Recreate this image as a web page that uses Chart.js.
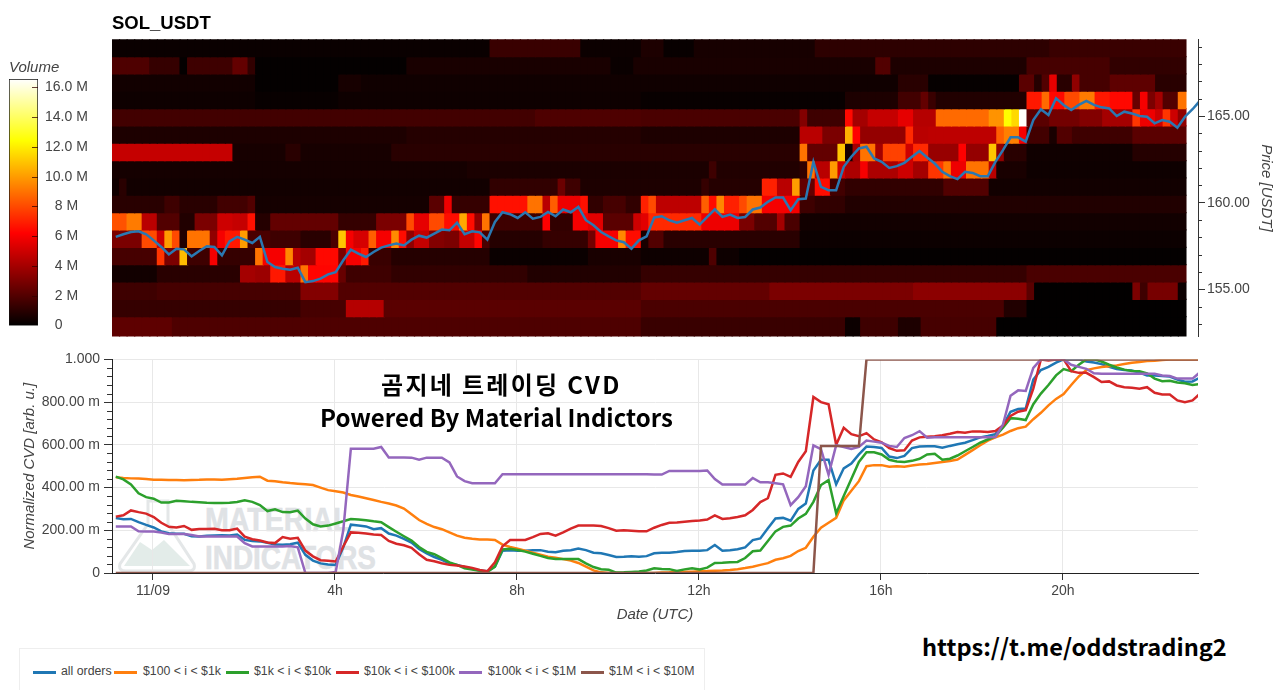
<!DOCTYPE html>
<html>
<head>
<meta charset="utf-8">
<title>SOL_USDT</title>
<script src="https://cdn.jsdelivr.net/npm/chart.js@4/dist/chart.umd.min.js"></script>
<style>
    html, body { margin: 0; padding: 0; background: #fff; overflow: hidden; }
    body { width: 1280px; height: 690px; position: relative; font-family: "Liberation Sans", sans-serif; }
    canvas { position: absolute; }
    #heatCanvas { left: 112px; top: 0; }
    #cvdCanvas { left: 0; top: 347px; }
    #barCanvas { left: 9px; top: 58px; }
    .caption { position: absolute; font-family: "Noto Sans CJK KR", sans-serif; font-weight: 700; color: #000; white-space: nowrap; }
    .mark { position: absolute; font-family: "Liberation Sans", sans-serif; font-weight: 700; color: #dfe2e5; -webkit-text-stroke: 0.6px #dfe2e5; white-space: nowrap; transform-origin: left top; }
    #legend { position: absolute; left: 19px; top: 648px; width: 686px; height: 42px; box-sizing: border-box; border: 1px solid #eee; border-bottom: 0; }
    #legend span { position: absolute; top: 15px; font-size: 12.3px; color: #444; white-space: nowrap; }
    #legend i { position: absolute; top: 22px; width: 23px; height: 3px; }
</style>
</head>
<body>
<svg style="position:absolute;left:116px;top:498px" width="82" height="76">
    <path d="M32 3 H52 V26 L78 66 Q80 73 72 73 H10 Q2 73 4 66 L32 26 Z" fill="#fff" stroke="#e4e7e8" stroke-width="3"/>
    <path d="M8 68 L24 44 L36 52 L48 42 L74 68 Z" fill="#e3ece9"/>
</svg>
<div class="mark" style="left:205px;top:500px;font-size:34px;transform:scaleX(.84)">MATERIAL</div>
<div class="mark" style="left:205px;top:538px;font-size:34px;transform:scaleX(.82)">INDICATORS</div>

<canvas id="heatCanvas" width="1168" height="347"></canvas>
<canvas id="barCanvas" width="101" height="283"></canvas>
<canvas id="cvdCanvas" width="1280" height="278"></canvas>

<div class="caption" style="left:381px;top:367px;font-size:24px;line-height:34px;letter-spacing:2.3px">곰지네 트레이딩 CVD</div>
<div class="caption" style="left:320px;top:400px;font-size:24px;line-height:34px">Powered By Material Indictors</div>
<div class="caption" style="left:922px;top:629px;font-size:23.6px;line-height:34px">https://t.me/oddstrading2</div>
<div id="legend"></div>

<script>
// Axis ticks
const priceTicks = [155, 160, 165];
const priceMinorTicks = [153, 154, 156, 157, 158, 159, 161, 162, 163, 164, 166, 167, 168, 169];
const timeTicks = [0, 4, 8, 12, 16, 20];
const timeTickLabels = ["11/09", "4h", "8h", "12h", "16h", "20h"];
const cvdTicks = [0, 200, 400, 600, 800, 1000];
const cvdTickLabels = ["0", "200.00 m", "400.00 m", "600.00 m", "800.00 m", "1.000"];
const cvdMinorTicks = [40, 80, 120, 160, 240, 280, 320, 360, 440, 480, 520, 560, 640, 680, 720, 760, 840, 880, 920, 960];
const volumeTicks = [0, 2, 4, 6, 8, 10, 12, 14, 16];
const volumeTickLabels = ["0    ", "2 M", "4 M", "6 M", "8 M", "10.0 M", "12.0 M", "14.0 M", "16.0 M"];
const volumeMax = 16.56;
const hoursStart = -0.9;
const hoursEnd = 22.97;

// Price bin edges of the heatmap, top to bottom
const priceEdges = [169.43, 168.43, 167.43, 166.43, 165.43, 164.43, 163.43, 162.43, 161.43, 160.43, 159.43, 158.43, 157.43, 156.43, 155.43, 154.43, 153.43, 152.28];

// Volume per price bin in millions, as runs of [end column, volume]
const volumeBin168 = [[50,.25],[62,1.4],[70,.3],[73,.7],[77,.2],[93,.55],[124,1.1],[142,1.4]];
const volumeBin167 = [[5,1.9],[9,1.3],[10,.1],[16,1.5],[18,2.4],[19,1.2],[39,.1],[66,.6],[69,.25],[101,.6],[103,2.0],[121,.7],[132,1.7],[142,1.2]];
const volumeBin166 = [[19,.45],[30,.1],[33,.55],[104,.4],[108,1.0],[120,.15],[122,2.2],[123,.9],[124,2.0],[125,5.6],[127,1.0],[128,3.5],[132,1.7],[138,2.3],[142,1.0]];
const volumeBin165 = [[19,.35],[30,.2],[70,.35],[97,.2],[104,.7],[107,1.6],[108,2.4],[109,1.4],[121,.8],[123,6.8],[124,8.8],[126,6.4],[128,8],[130,9.2],[132,6.8],[135,6.4],[136,2.5],[137,6],[138,3],[139,4],[141,2],[142,9]];
const volumeBin164 = [[56,1.6],[70,1.9],[91,1.8],[92,3.2],[97,1.5],[98,6.4],[100,4],[104,4.8],[106,5.6],[109,4.4],[116,8.8],[118,9.8],[119,12.4],[120,11.5],[121,16.5],[124,2.2],[128,2.8],[131,3.2],[135,4],[136,7.5],[138,5.8],[139,5],[140,7.5],[141,5],[142,3.5]];
const volumeBin163 = [[39,.7],[70,.9],[91,.7],[94,4.5],[97,3],[98,10.5],[99,6.2],[105,3.6],[106,7.2],[108,4.5],[117,4.6],[118,8.5],[120,9.3],[121,6],[124,1.6],[125,.6],[127,2],[135,1.5],[142,2.2]];
const volumeBin162 = [[16,4.8],[23,.55],[25,1.0],[37,.55],[91,1.0],[92,9],[96,2.4],[97,11],[98,.5],[99,4],[101,9],[102,4],[105,7.8],[106,5],[108,7.2],[112,3.7],[113,6.2],[116,3.6],[117,11],[118,3.5],[121,1],[135,.4],[142,.9]];
const volumeBin161 = [[47,.5],[79,.65],[80,1.5],[91,.8],[92,1.2],[93,9],[95,4.5],[96,10],[97,5],[99,4.2],[100,6],[104,4.2],[106,5],[108,4],[110,7.5],[111,9],[113,5.8],[116,9],[117,4.5],[121,.6],[142,.35]];
const volumeBin160 = [[1,.4],[2,1],[50,.45],[59,1.2],[60,2.6],[62,1.5],[78,.7],[79,1.3],[86,.9],[88,7],[90,4.5],[91,10],[93,2.4],[95,6.5],[97,1.6],[110,1.2],[116,2],[142,.45]];
const volumeBin159 = [[7,1],[9,1.5],[14,1],[18,1.6],[19,2],[42,.5],[44,2.2],[45,5.8],[50,1.3],[55,6.6],[57,9],[58,4.5],[59,8.5],[62,5.8],[63,6.6],[65,1.2],[68,1.7],[70,1.2],[71,7],[72,8],[78,4.6],[79,8.5],[80,6.5],[81,9.5],[83,7],[84,8],[86,9],[91,6],[93,1.5],[97,1.2],[142,.8]];
const volumeBin158 = [[2,8.2],[4,9.2],[6,4.5],[9,2],[11,.8],[14,3],[16,5],[18,4.8],[19,6.6],[21,.9],[30,2.4],[35,1.3],[39,3],[40,8],[42,5.6],[44,8],[46,6.5],[47,10.3],[48,6.5],[49,3.5],[50,9],[57,1.5],[58,6.2],[61,1.2],[63,6],[65,5.5],[69,2.2],[70,5],[71,5.5],[78,7.2],[83,5.8],[85,3],[88,2],[89,4],[91,1.8],[142,.45]];
const volumeBin157 = [[4,3],[6,8],[7,5],[8,10],[9,8],[10,.8],[13,9],[14,3.5],[15,6],[17,6.8],[18,10],[21,1.8],[25,1.5],[29,1],[30,1.8],[31,11],[32,6],[34,5.2],[35,8.5],[37,6],[38,9.6],[39,6.5],[40,3.5],[42,4.8],[44,3.2],[46,3],[48,4.8],[49,6.3],[50,1.8],[57,.9],[63,1.3],[64,2.8],[67,6],[68,9.5],[70,6.5],[71,.6],[73,2],[91,1],[142,.3]];
const volumeBin156 = [[6,1.7],[7,7.5],[9,3],[10,10.8],[13,1.5],[14,6],[19,1.3],[20,9],[23,6],[24,9.5],[25,4.5],[27,4],[30,6.4],[31,3],[33,6],[34,6.8],[37,1.4],[50,.9],[63,.25],[70,.6],[79,.35],[80,1.9],[83,.35],[142,.1]];
const volumeBin155 = [[6,.45],[17,1],[19,4],[21,3.8],[23,6.8],[25,4.5],[26,9],[30,6.3],[31,2.5],[37,1.5],[55,1.2],[70,.8],[121,1.3],[142,1.8]];
const volumeBin154 = [[6,1.5],[25,1.7],[30,3.2],[70,2],[87,2.4],[106,3],[121,3.4],[122,2.2],[135,.05],[136,3],[137,1.5],[141,2.9],[142,.3]];
const volumeBin153 = [[25,1.3],[31,1.7],[36,4.4],[70,2.2],[118,1.8],[121,.8],[142,.05]];
const volumeBin152 = [[8,2.3],[70,1.9],[97,1.4],[99,.3],[104,1.5],[107,.7],[117,1.7],[142,.05]];
const volumeBins = [volumeBin168, volumeBin167, volumeBin166, volumeBin165, volumeBin164, volumeBin163, volumeBin162, volumeBin161, volumeBin160, volumeBin159, volumeBin158, volumeBin157, volumeBin156, volumeBin155, volumeBin154, volumeBin153, volumeBin152];

// Price, one value per 10 minutes
const priceValues = [
    158.03,158.18,158.31,158.35,158.18,157.83,157.45,157.02,157.35,157.31,
    156.91,157.22,157.49,157.45,156.97,157.77,158.03,157.87,157.68,158.03,
    156.58,156.29,156.19,156.14,156.25,155.42,155.48,155.62,155.87,156.00,
    156.68,157.29,157.06,156.87,157.16,157.41,157.54,157.64,157.54,157.87,
    158.10,157.99,158.22,158.45,158.41,158.85,158.18,158.35,158.29,157.87,
    158.89,159.45,159.34,159.12,159.45,159.08,159.18,159.47,159.22,159.61,
    159.45,159.76,158.99,158.70,158.31,158.06,157.83,157.72,157.35,157.83,
    158.06,159.14,159.22,158.99,158.85,158.99,159.12,158.74,159.18,159.62,
    159.18,159.32,159.12,159.18,159.61,159.72,160.05,160.30,160.30,159.57,
    160.20,160.24,162.36,160.92,160.72,160.72,162.07,162.65,163.13,163.23,
    162.55,162.36,162.01,162.11,162.30,162.65,162.98,162.61,162.26,161.78,
    161.53,161.36,161.78,161.72,161.53,161.53,162.36,163.03,163.77,163.77,
    163.52,164.77,165.39,165.06,166.02,165.64,165.35,165.64,165.87,165.64,
    165.50,165.44,165.00,165.25,165.15,165.00,164.96,164.58,164.77,164.67,
    164.33,164.96,165.39,165.89
];

// Normalized CVD in milli units, same 10 minute samples
const allOrders = [
    257,252,253,238,225,213,195,186,184,184,
    172,171,174,176,177,176,180,155,150,148,
    142,133,132,135,142,85,58,45,40,38,
    120,226,222,218,205,210,185,175,160,142,
    112,92,75,62,45,38,28,20,12,8,
    30,104,107,104,104,107,107,100,97,104,
    107,115,107,95,92,84,75,76,78,76,
    79,92,95,95,98,103,104,104,107,131,
    104,107,111,120,154,162,209,255,258,245,
    300,325,480,530,530,415,490,512,555,592,
    590,585,545,538,548,585,592,593,593,586,
    595,603,610,622,635,642,650,690,755,768,
    770,905,950,965,985,1000,1000,1000,990,985,
    978,965,955,950,948,938,925,925,922,920,
    905,895,897,915
];
const orders100To1k = [
    448,445,443,442,440,437,436,435,435,434,
    435,436,438,438,437,439,441,445,448,451,
    432,430,425,421,418,415,412,400,388,383,
    377,365,358,350,342,333,325,316,302,275,
    248,230,215,205,190,175,165,160,157,157,
    155,133,122,114,104,95,86,76,71,65,
    58,47,30,12,3,0,0,0,0,0,
    0,0,2,3,5,6,6,8,9,11,
    12,14,18,23,29,38,46,62,69,80,
    103,118,170,212,235,258,340,385,430,500,
    505,505,497,500,498,503,508,510,515,520,
    524,531,553,575,598,620,635,648,665,678,
    685,720,750,785,815,838,880,920,950,958,
    964,968,972,978,984,988,992,994,997,999,
    1000,1000,1000,1000
];
const orders1kTo10k = [
    451,438,415,373,355,348,330,330,338,336,
    333,331,329,328,328,329,332,340,333,318,
    290,298,285,284,292,255,228,218,222,232,
    242,253,250,247,242,238,215,193,172,152,
    122,99,88,70,50,38,22,16,10,5,
    30,110,113,108,100,90,80,70,66,65,
    65,65,45,28,18,15,2,3,5,7,
    12,22,19,18,10,17,22,16,25,47,
    48,50,52,70,102,105,150,195,216,222,
    255,277,333,412,435,280,360,440,520,565,
    565,555,530,522,520,525,535,555,558,530,
    535,550,570,590,610,625,640,680,725,722,
    716,790,840,880,925,955,945,975,1000,1000,
    990,975,962,952,946,945,935,910,898,900,
    892,888,880,885
];
const orders10kTo100k = [
    264,270,293,285,278,262,235,216,213,220,
    202,206,206,207,200,200,208,170,158,152,
    143,140,168,160,165,105,78,60,57,54,
    124,190,188,185,180,178,150,137,130,118,
    88,62,55,46,38,35,30,24,14,8,
    50,125,154,154,155,168,183,186,175,190,
    208,222,222,222,220,210,198,200,198,195,
    195,212,225,235,236,240,243,246,250,270,
    253,256,262,270,295,332,350,460,466,450,
    520,570,824,800,790,600,680,650,640,655,
    625,612,585,572,575,620,635,638,640,645,
    652,660,657,663,662,660,665,690,735,755,
    762,863,1000,995,1000,1000,945,937,937,917,
    894,897,878,870,867,863,870,844,836,836,
    808,800,808,840
];
const orders100kTo1M = [
    218,218,218,195,194,194,190,182,182,182,
    178,171,171,171,171,171,171,140,124,124,
    124,124,124,126,120,0,0,0,0,5,
    200,582,582,582,582,590,541,541,541,540,
    530,540,540,540,518,452,430,420,420,420,
    420,462,462,462,462,462,462,462,462,462,
    462,462,462,462,462,462,462,462,462,462,
    462,461,461,478,478,478,478,478,480,440,
    414,414,414,414,445,425,425,420,415,318,
    355,406,598,580,460,598,590,581,590,620,
    615,610,595,590,632,645,664,633,635,635,
    635,635,635,635,635,635,637,695,830,855,
    852,960,1000,1000,1000,1000,975,965,956,935,
    933,933,933,933,933,933,933,933,925,922,
    910,910,910,940
];
const orders1MTo10M = [
    0,0,0,0,0,0,0,0,0,0,
    0,0,0,0,0,0,0,0,0,0,
    0,0,0,0,0,0,0,0,0,0,
    0,0,0,0,0,0,0,0,0,0,
    0,0,0,0,0,0,0,0,0,0,
    0,0,0,0,0,0,0,0,0,0,
    0,0,0,0,0,0,0,0,0,0,
    0,0,0,0,0,0,0,0,0,0,
    0,0,0,0,0,0,0,0,0,0,
    0,0,0,595,595,595,595,595,595,1000,
    1000,1000,1000,1000,1000,1000,1000,1000,1000,1000,
    1000,1000,1000,1000,1000,1000,1000,1000,1000,1000,
    1000,1000,1000,1000,1000,1000,1000,1000,1000,1000,
    1000,1000,1000,1000,1000,1000,1000,1000,1000,1000,
    1000,1000,1000,1000
];
const seriesNames = ["all orders", "$100 < i < $1k", "$1k < i < $10k", "$10k < i < $100k", "$100k < i < $1M", "$1M < i < $10M"];
const seriesValues = [allOrders, orders100To1k, orders1kTo10k, orders10kTo100k, orders100kTo1M, orders1MTo10M];
const seriesColors = ["#1f77b4", "#ff7f0e", "#2ca02c", "#d62728", "#9467bd", "#8c564b"];

const textGray = "#444";
const axisFont = { family: "'Liberation Sans', sans-serif", size: 14 };
const axisTitleFont = { family: "'Liberation Sans', sans-serif", size: 15, style: "italic", weight: "normal" };

// center of a 10 minute sample, in hours after 11/09 00:00
const sampleHour = k => hoursStart + (k + 0.5) / 6;
// heatmap columns stop a little short of the axis
const heatColumnStep = 0.16623;
const columnHour = k => hoursStart + (k + 0.5) * heatColumnStep;

const expandRuns = runs => {
    const out = [];
    runs.forEach(([end, v]) => {
        while (out.length < end) out.push(v);
    });
    return out;
};

// "hot" palette over the volume range
const hotColor = v => {
    const t = Math.min(1, v / volumeMax);
    const r = Math.min(1, t / 0.375);
    const g = Math.max(0, Math.min(1, (t - 0.375) / 0.375));
    const b = Math.max(0, Math.min(1, (t - 0.75) / 0.25));
    return `rgb(${Math.round(r * 255)},${Math.round(g * 255)},${Math.round(b * 255)})`;
};

// Short tick marks that Chart.js has no option for
const tickMarks = {
    id: "tickMarks",
    afterDraw(chart) {
        const marks = chart.config.options.tickMarks;
        if (!marks) return;
        const ctx = chart.ctx;
        const scale = chart.scales[marks.scale];
        const base = scale.position === "left" ? scale.right : scale.left;
        const dir = scale.position === "left" ? -1 : 1;
        ctx.save();
        ctx.strokeStyle = marks.color;
        ctx.lineWidth = 1;
        marks.values.forEach(v => {
            const y = Math.round(scale.getPixelForValue(v)) + 0.5;
            ctx.beginPath();
            ctx.moveTo(base, y);
            ctx.lineTo(base + dir * marks.length, y);
            ctx.stroke();
        });
        ctx.restore();
    }
};

// Heatmap with price on top
const heatDatasets = volumeBins.map((runs, row) => {
    const volumes = expandRuns(runs);
    return {
        type: "bar",
        order: 1,
        grouped: false,
        barPercentage: 1,
        categoryPercentage: 1,
        borderWidth: 0,
        inflateAmount: 0.6,
        data: volumes.map((v, k) => ({ x: columnHour(k), y: [priceEdges[row + 1], priceEdges[row]] })),
        backgroundColor: volumes.map(hotColor)
    };
});
heatDatasets.push({
    type: "line",
    order: 0,
    data: priceValues.map((p, k) => ({ x: sampleHour(k), y: p })),
    borderColor: "#2a78b2",
    borderWidth: 2.5,
    pointRadius: 0,
    tension: 0
});

new Chart(document.getElementById("heatCanvas"), {
    type: "bar",
    data: { datasets: heatDatasets },
    plugins: [tickMarks],
    options: {
        responsive: false,
        animation: false,
        events: [],
        tickMarks: { scale: "y", values: priceMinorTicks, length: 4, color: "#333" },
        plugins: {
            legend: { display: false },
            tooltip: { enabled: false },
            title: {
                display: true,
                text: "SOL_USDT",
                align: "start",
                color: "#000",
                font: { family: "'Liberation Sans', sans-serif", size: 18.5, weight: "bold" },
                padding: { top: 13, bottom: 4 }
            }
        },
        scales: {
            x: { type: "linear", display: false, offset: false, min: hoursStart, max: hoursEnd },
            y: {
                position: "right",
                min: priceEdges[priceEdges.length - 1],
                max: priceEdges[0],
                afterBuildTicks: s => { s.ticks = priceTicks.map(v => ({ value: v })); },
                afterFit: s => { s.width = 82; },
                border: { color: "#333" },
                grid: { drawOnChartArea: false, tickLength: 7, tickColor: "#333" },
                ticks: { color: textGray, font: axisFont, padding: 2, callback: v => v.toFixed(2) },
                title: { display: true, text: "Price [USDT]", color: textGray, font: axisTitleFont, padding: { top: 4.6, bottom: 0 } }
            }
        }
    }
});

// Volume colorbar
const barStops = [[0, "#000"], [0.375, "#f00"], [0.75, "#ff0"], [1, "#fff"]];
new Chart(document.getElementById("barCanvas"), {
    type: "bar",
    data: {
        labels: ["Volume"],
        datasets: [{
            data: [volumeMax],
            barPercentage: 1,
            categoryPercentage: 1,
            borderWidth: 1,
            borderColor: "#111",
            borderSkipped: false,
            backgroundColor: c => {
                const area = c.chart.chartArea;
                if (!area) return "#000";
                const g = c.chart.ctx.createLinearGradient(0, area.bottom, 0, area.top);
                barStops.forEach(([s, col]) => g.addColorStop(s, col));
                return g;
            }
        }]
    },
    plugins: [{
        id: "barTicks",
        afterDraw(chart) {
            const scale = chart.scales.y;
            const ctx = chart.ctx;
            ctx.save();
            ctx.strokeStyle = "rgba(50,0,0,.75)";
            volumeTicks.slice(1).forEach(v => {
                const y = Math.round(scale.getPixelForValue(v)) + 0.5;
                ctx.beginPath();
                ctx.moveTo(scale.left - 6, y);
                ctx.lineTo(scale.left, y);
                ctx.stroke();
            });
            ctx.restore();
        }
    }],
    options: {
        responsive: false,
        animation: false,
        events: [],
        layout: { padding: { bottom: 4.3 } },
        plugins: {
            legend: { display: false },
            tooltip: { enabled: false },
            title: {
                display: true,
                text: "Volume",
                align: "start",
                color: textGray,
                font: axisTitleFont,
                padding: { top: 1, bottom: 2 }
            }
        },
        scales: {
            x: { display: false },
            y: {
                position: "right",
                min: 0,
                max: volumeMax,
                afterBuildTicks: s => { s.ticks = volumeTicks.map(v => ({ value: v })); },
                afterFit: s => { s.width = 72; },
                border: { display: false },
                grid: { display: false, drawTicks: false },
                ticks: {
                    color: textGray,
                    font: axisFont,
                    padding: 7,
                    crossAlign: "center",
                    callback: v => volumeTickLabels[volumeTicks.indexOf(v)]
                }
            }
        }
    }
});

// Normalized CVD lines, later series on top
const cvdDatasets = seriesValues.map((values, i) => ({
    label: seriesNames[i],
    order: seriesValues.length - i,
    data: values.map((v, k) => ({ x: sampleHour(k), y: v })),
    borderColor: seriesColors[i],
    borderWidth: 2.5,
    pointRadius: 0,
    tension: 0
}));

new Chart(document.getElementById("cvdCanvas"), {
    type: "line",
    data: { datasets: cvdDatasets },
    plugins: [tickMarks],
    options: {
        responsive: false,
        animation: false,
        events: [],
        layout: { padding: { top: 12, right: 82 } },
        tickMarks: { scale: "y", values: cvdMinorTicks, length: 5, color: "#333" },
        plugins: { legend: { display: false }, tooltip: { enabled: false } },
        scales: {
            x: {
                type: "linear",
                min: hoursStart,
                max: hoursEnd,
                afterBuildTicks: s => { s.ticks = timeTicks.map(v => ({ value: v })); },
                afterFit: s => { s.height = 52; },
                border: { color: "#222" },
                grid: { color: "#e8e8e8", tickColor: "#333", tickLength: 7 },
                ticks: {
                    color: textGray,
                    font: axisFont,
                    padding: 3,
                    maxRotation: 0,
                    autoSkip: false,
                    callback: v => timeTickLabels[timeTicks.indexOf(v)]
                },
                title: { display: true, text: "Date (UTC)", color: textGray, font: axisTitleFont, padding: { top: 0, bottom: 1 } }
            },
            y: {
                min: 0,
                max: 1000,
                afterBuildTicks: s => { s.ticks = cvdTicks.map(v => ({ value: v })); },
                afterFit: s => { s.width = 112; },
                border: { color: "#222" },
                grid: { color: "#e8e8e8", tickColor: "#333", tickLength: 8 },
                ticks: {
                    color: textGray,
                    font: axisFont,
                    padding: 4,
                    callback: v => cvdTickLabels[cvdTicks.indexOf(v)]
                },
                title: { display: true, text: "Normalized CVD [arb. u.]", color: textGray, font: axisTitleFont, padding: { top: 21, bottom: 0 } }
            }
        }
    }
});

// Legend row
const legendBox = document.getElementById("legend");
const legendSwatchX = [13, 94, 206, 316, 439, 561];
const legendTextX = [41, 123, 234, 344, 468, 589];
seriesNames.forEach((name, i) => {
    const swatch = document.createElement("i");
    swatch.style.left = legendSwatchX[i] + "px";
    swatch.style.background = seriesColors[i];
    legendBox.appendChild(swatch);
    const label = document.createElement("span");
    label.style.left = legendTextX[i] + "px";
    label.textContent = name;
    legendBox.appendChild(label);
});
</script>
</body>
</html>
